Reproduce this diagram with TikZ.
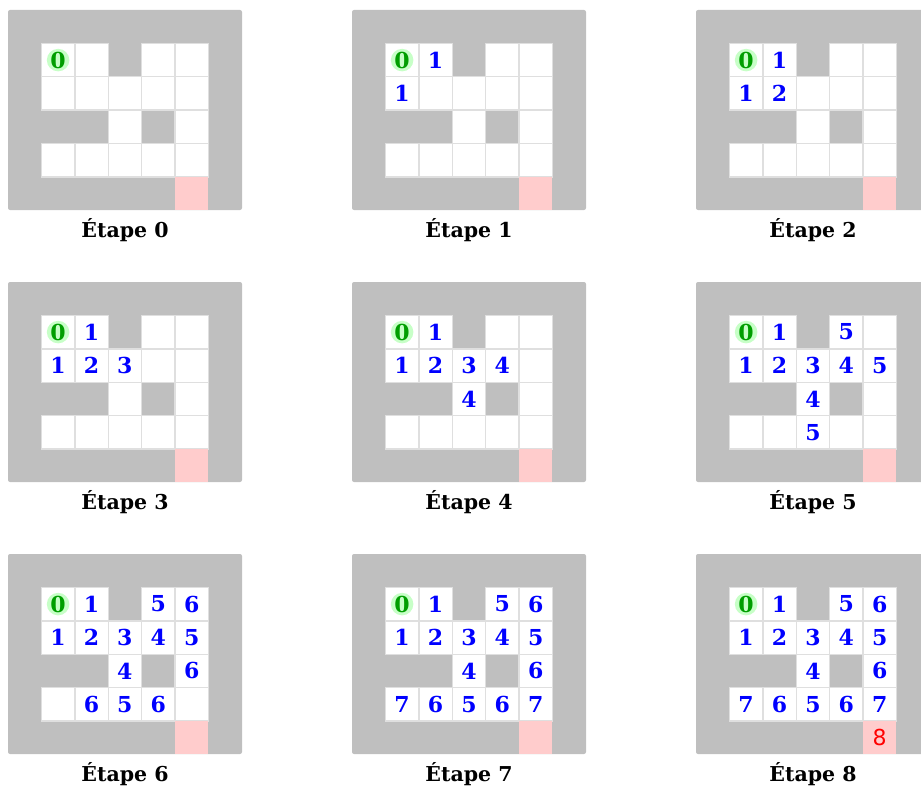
\documentclass[tikz,border=0pt]{standalone}
\usepackage{fontspec}
\setmainfont{DejaVu Serif}
\newfontfamily\exitfont{DejaVu Sans}
\tikzset{
  wall/.style={fill=gray!50, draw=none, rounded corners=2pt},
  cellbox/.style={rectangle, fill=white, draw=gray!25, line width=1.4pt, minimum size=33.4pt, inner sep=0pt,
    font=\fontsize{22}{22}\selectfont\bfseries, text=blue},
  exitbox/.style={rectangle, fill=red!20, draw=none, minimum size=33.4pt, inner sep=0pt,
    font=\fontsize{22}{22}\exitfont, text=red},
  startmark/.style={circle, fill=green!22, minimum size=20pt, inner sep=0pt,
    text=green!62!black, font=\fontsize{22}{22}\selectfont\bfseries},
  steplabel/.style={anchor=base, font=\fontsize{20.5}{20.5}\selectfont\bfseries}
}
\begin{document}
\begin{tikzpicture}[x=1pt,y=-1pt]
\useasboundingbox (0,0) rectangle (921,789);
\foreach \k in {0,...,8}{
  \pgfmathtruncatemacro\pc{mod(\k,3)}
  \pgfmathtruncatemacro\pr{div(\k,3)}
  \pgfmathsetmacro\xo{8+344*\pc}
  \pgfmathsetmacro\yo{10+272*\pr}
  \begin{scope}[shift={(\xo,\yo)}]
    \fill[wall] (0,0) rectangle (234,200);
    \foreach \ri/\ci/\dv in {1/1/0,1/2/1,1/4/5,1/5/6,2/1/1,2/2/2,2/3/3,2/4/4,2/5/5,3/3/4,3/5/6,4/1/7,4/2/6,4/3/5,4/4/6,4/5/7}{
      \node[cellbox] (cell-\k-\ri-\ci) at (33.4*\ci+16.7, 33.4*\ri+16.7)
        {\ifnum\dv=0 \else\ifnum\dv>\k \else\dv\fi\fi};
    }
    \node[startmark] (start-\k) at (cell-\k-1-1) {0};
    \node[exitbox] (exit-\k) at (5*33.4+16.7, 5*33.4+16.6) {\ifnum\k=8 8\fi};
    \node[steplabel] (label-\k) at (117,227) {Étape \k};
  \end{scope}
}
\end{tikzpicture}
\end{document}
